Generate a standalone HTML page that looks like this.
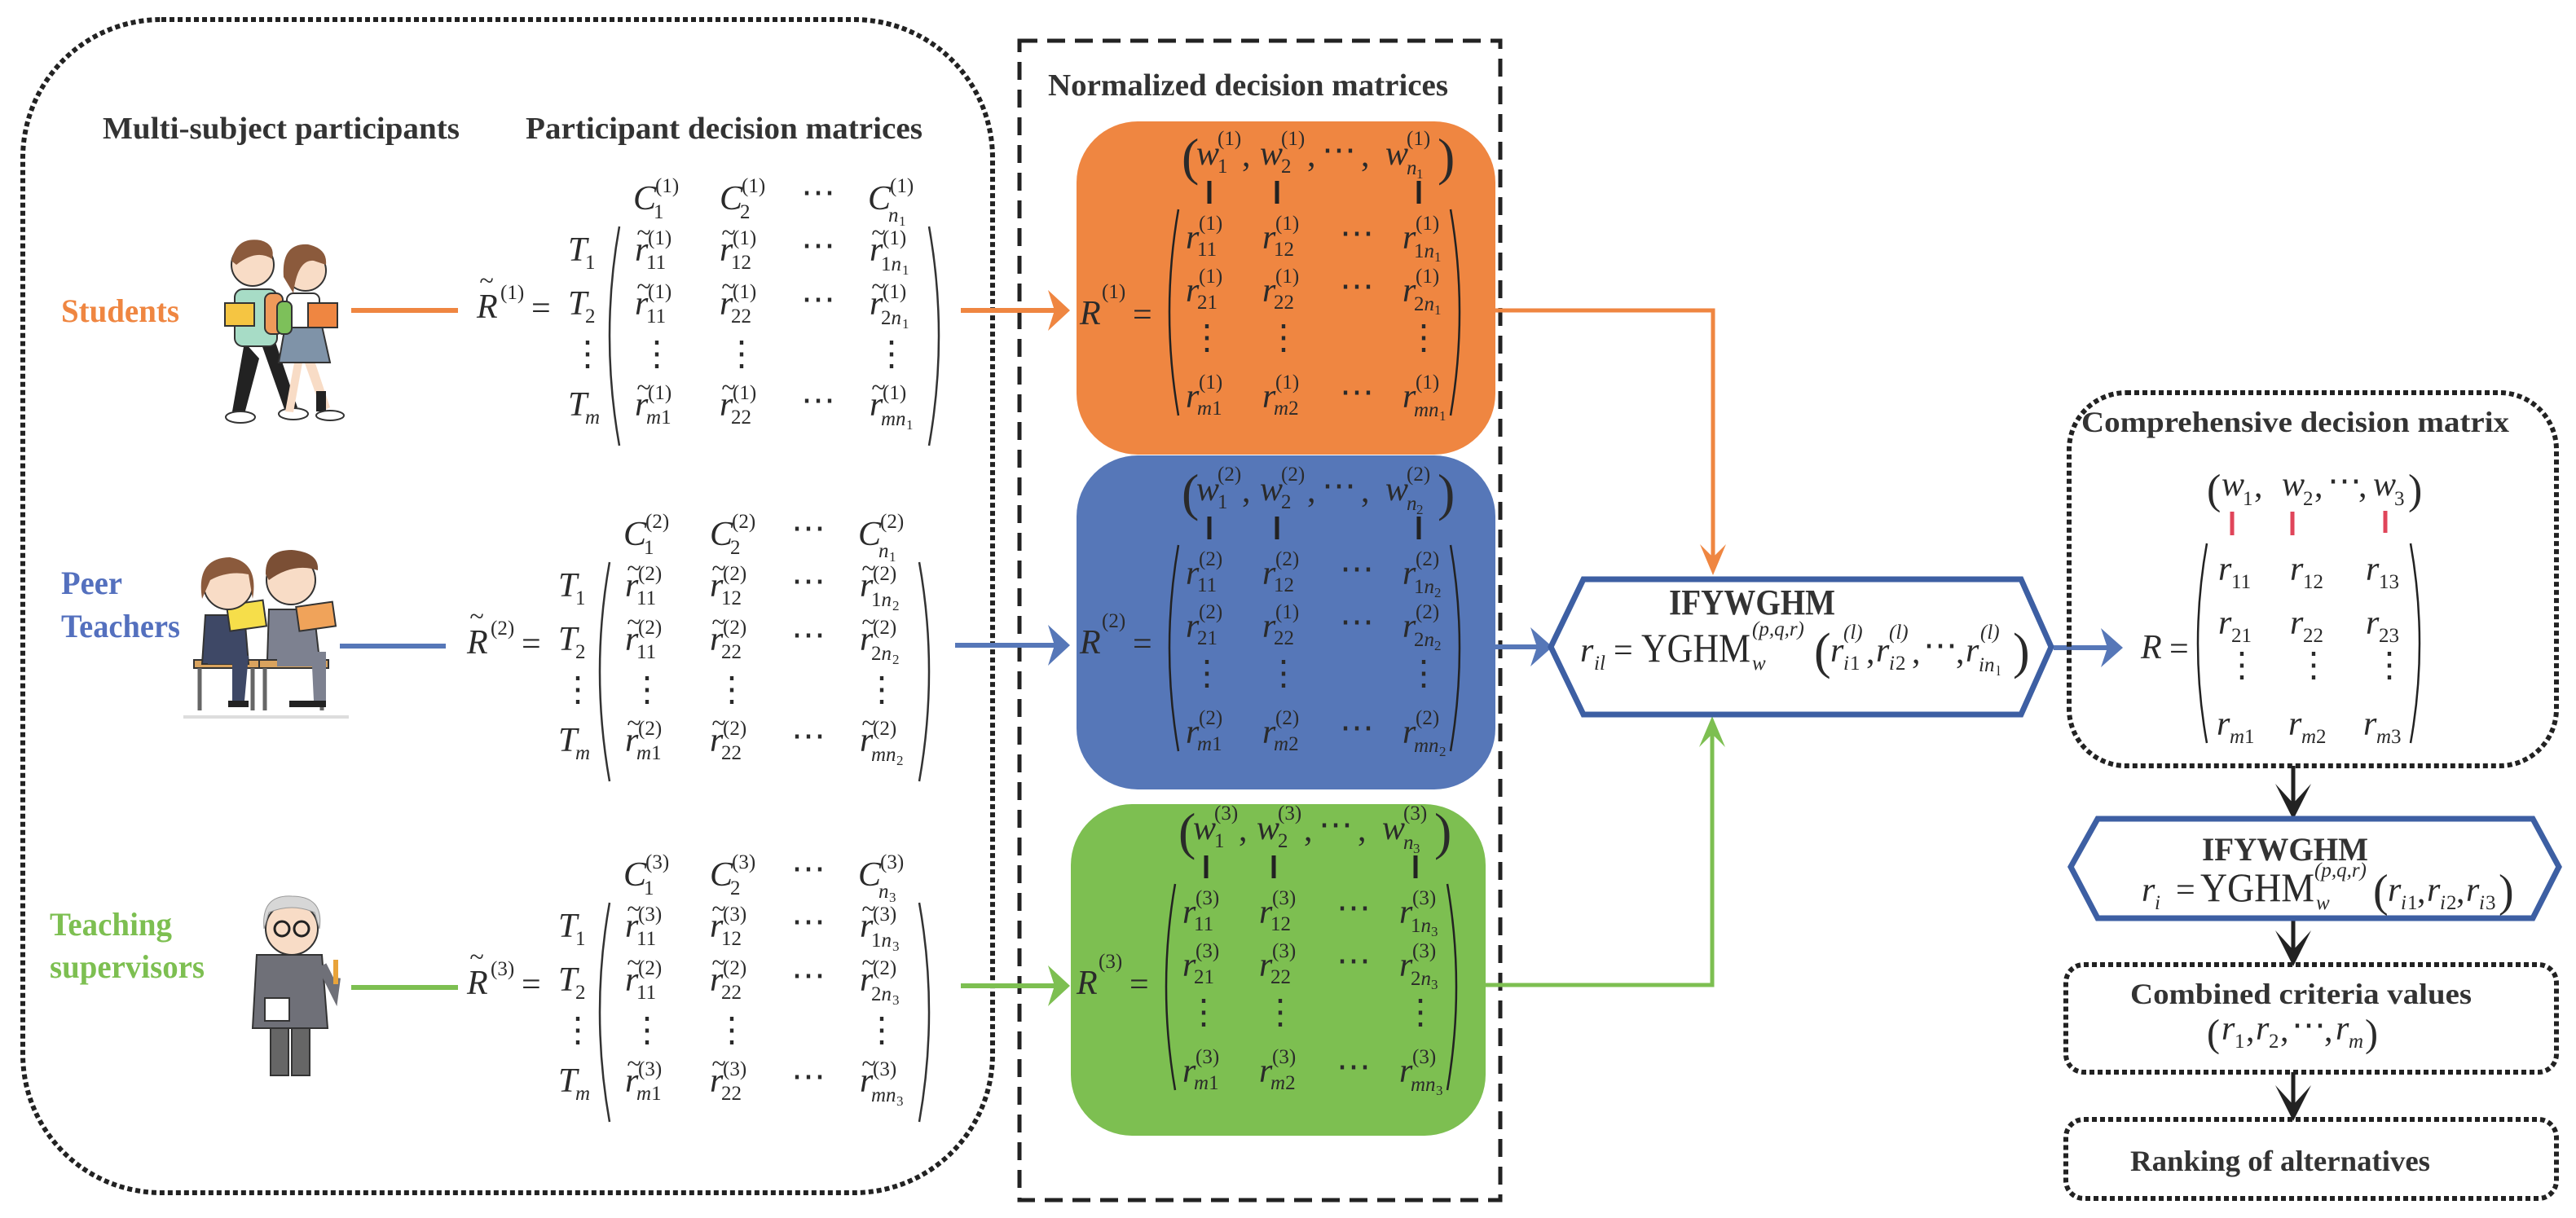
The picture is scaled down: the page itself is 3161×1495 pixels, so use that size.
<!DOCTYPE html>
<html><head><meta charset="utf-8"><style>
html,body{margin:0;padding:0;background:#fff;}
svg{display:block;}
text{font-family:"Liberation Serif",serif;fill:#2a2a2a;}
.m{font-style:italic;font-size:42px;}
.u{font-size:42px;}
.s{font-size:25px;}
.si{font-size:25px;font-style:italic;}
.ss{font-size:17px;}
.h{font-weight:bold;font-size:38px;fill:#333;}
.tl{font-size:34px;}
</style></head><body>
<svg width="3161" height="1495" viewBox="0 0 3161 1495" xmlns="http://www.w3.org/2000/svg">
<defs>
<g id="lp"><path d="M760 278 Q736 412 760 547" fill="none" stroke="#333" stroke-width="2.5"/><path d="M1140 278 Q1164 412 1140 547" fill="none" stroke="#333" stroke-width="2.5"/></g>
<g id="np"><path d="M1446 257 Q1424 383 1446 510" fill="none" stroke="#222" stroke-width="2.5"/><path d="M1780 257 Q1802 383 1780 510" fill="none" stroke="#222" stroke-width="2.5"/>
<line x1="1484" y1="222" x2="1484" y2="250" stroke="#222" stroke-width="5"/><line x1="1567" y1="222" x2="1567" y2="250" stroke="#222" stroke-width="5"/><line x1="1741" y1="222" x2="1741" y2="250" stroke="#222" stroke-width="5"/></g>
</defs>

<!-- big left dotted box -->
<rect x="28" y="24" width="1190" height="1440" rx="170" fill="none" stroke="#222" stroke-width="6" stroke-dasharray="6 4"/>
<!-- dashed normalized box -->
<rect x="1251" y="50" width="590" height="1423" fill="none" stroke="#222" stroke-width="5" stroke-dasharray="22 12"/>

<text class="h" x="126" y="170" textLength="438" lengthAdjust="spacingAndGlyphs">Multi-subject participants</text>
<text class="h" x="645" y="170" textLength="487" lengthAdjust="spacingAndGlyphs">Participant decision matrices</text>
<text class="h" x="1286" y="117" textLength="491" lengthAdjust="spacingAndGlyphs">Normalized decision matrices</text>

<text class="h" x="75" y="395" style="fill:#EF8641;font-size:40px" textLength="145" lengthAdjust="spacingAndGlyphs">Students</text>
<text class="h" x="75" y="729" style="fill:#5470BE;font-size:40px" textLength="75" lengthAdjust="spacingAndGlyphs">Peer</text>
<text class="h" x="75" y="782" style="fill:#5470BE;font-size:40px" textLength="146" lengthAdjust="spacingAndGlyphs">Teachers</text>
<text class="h" x="61" y="1148" style="fill:#7DBF51;font-size:40px" textLength="150" lengthAdjust="spacingAndGlyphs">Teaching</text>
<text class="h" x="61" y="1200" style="fill:#7DBF51;font-size:40px" textLength="190" lengthAdjust="spacingAndGlyphs">supervisors</text>

<!-- Students illustration -->
<g>
<path d="M300 420 L285 505 L300 508 L318 440 Z" fill="#222"/><path d="M320 420 L350 505 L365 500 L338 420 Z" fill="#222"/>
<ellipse cx="295" cy="512" rx="18" ry="7" fill="#fff" stroke="#333" stroke-width="2"/><ellipse cx="360" cy="508" rx="18" ry="7" fill="#fff" stroke="#333" stroke-width="2"/>
<rect x="288" y="355" width="52" height="70" rx="10" fill="#A7DCC6" stroke="#333" stroke-width="2"/>
<rect x="325" y="360" width="22" height="50" rx="8" fill="#EF9A5A" stroke="#333" stroke-width="2"/>
<rect x="276" y="372" width="36" height="28" fill="#F5C542" stroke="#333" stroke-width="2"/>
<circle cx="310" cy="325" r="26" fill="#F8DCC6" stroke="#333" stroke-width="2"/><path d="M284 320 Q290 290 320 295 Q338 300 334 318 Q315 305 290 325 Z" fill="#8B5A3C"/>
<path d="M372 440 L395 505 L405 500 L385 440 Z" fill="#F8DCC6"/><path d="M362 440 L350 505 L360 506 L372 440 Z" fill="#F8DCC6"/>
<rect x="388" y="480" width="12" height="25" fill="#222"/>
<ellipse cx="405" cy="510" rx="17" ry="6" fill="#fff" stroke="#333" stroke-width="2"/>
<path d="M350 400 L395 400 L405 445 L342 445 Z" fill="#7F93A8" stroke="#333" stroke-width="2"/>
<rect x="352" y="360" width="40" height="42" rx="8" fill="#fff" stroke="#333" stroke-width="2"/>
<rect x="340" y="370" width="18" height="40" rx="7" fill="#7DC05A" stroke="#333" stroke-width="2"/>
<rect x="378" y="372" width="36" height="30" fill="#EF8641" stroke="#333" stroke-width="2"/>
<circle cx="375" cy="332" r="25" fill="#F8DCC6" stroke="#333" stroke-width="2"/><path d="M348 340 Q345 298 378 300 Q402 305 400 325 L385 320 Q365 318 360 360 Z" fill="#8B5A3C"/>
</g>
<!-- Peer teachers -->
<g>
<rect x="238" y="810" width="80" height="10" fill="#D9A35E" stroke="#333" stroke-width="2"/><rect x="318" y="810" width="85" height="10" fill="#D9A35E" stroke="#333" stroke-width="2"/>
<line x1="245" y1="820" x2="245" y2="872" stroke="#666" stroke-width="5"/><line x1="310" y1="820" x2="310" y2="872" stroke="#666" stroke-width="5"/><line x1="325" y1="820" x2="325" y2="872" stroke="#666" stroke-width="5"/><line x1="395" y1="820" x2="395" y2="872" stroke="#666" stroke-width="5"/>
<line x1="225" y1="880" x2="428" y2="880" stroke="#ddd" stroke-width="4"/>
<path d="M252 755 L300 755 L305 815 L248 815 Z" fill="#3E4866" stroke="#333" stroke-width="2"/>
<path d="M255 800 L305 805 L300 860 L285 860 L285 815 L255 815 Z" fill="#3E4866"/>
<rect x="280" y="740" width="45" height="32" fill="#F6DE4A" stroke="#333" stroke-width="2" transform="rotate(-8 300 756)"/>
<circle cx="280" cy="718" r="30" fill="#F8DCC6" stroke="#333" stroke-width="2"/><path d="M248 735 Q240 685 282 684 Q318 690 310 735 L305 705 Q280 700 258 712 Z" fill="#8B5A3C"/>
<path d="M330 748 L385 748 L392 810 L328 810 Z" fill="#7D8190" stroke="#333" stroke-width="2"/>
<path d="M340 800 L400 800 L400 860 L385 860 L383 818 L340 818 Z" fill="#7D8190"/>
<rect x="365" y="742" width="45" height="30" fill="#F0A35A" stroke="#333" stroke-width="2" transform="rotate(-8 385 756)"/>
<circle cx="357" cy="712" r="30" fill="#F8DCC6" stroke="#333" stroke-width="2"/><path d="M326 705 Q325 675 358 675 Q392 678 390 700 Q360 690 330 712 Z" fill="#7B4F35"/>
<rect x="355" y="860" width="45" height="8" fill="#222"/><rect x="280" y="860" width="25" height="8" fill="#222"/>
</g>
<!-- Supervisor -->
<g>
<rect x="332" y="1255" width="22" height="65" fill="#666" stroke="#333" stroke-width="2"/><rect x="358" y="1255" width="22" height="65" fill="#666" stroke="#333" stroke-width="2"/>
<path d="M315 1172 L395 1172 L402 1262 L310 1262 Z" fill="#6F7078" stroke="#333" stroke-width="2"/>
<path d="M395 1185 L410 1215 L412 1200" fill="none" stroke="#6F7078" stroke-width="12"/>
<rect x="409" y="1178" width="6" height="30" fill="#E8A33A"/>
<rect x="325" y="1225" width="30" height="28" fill="#fff" stroke="#333" stroke-width="2"/>
<circle cx="358" cy="1140" r="32" fill="#F8DCC6" stroke="#333" stroke-width="2"/><path d="M324 1140 Q320 1098 358 1100 Q398 1100 392 1140 L386 1120 Q358 1108 330 1120 Z" fill="#D7D7D7" stroke="#999"/>
<circle cx="346" cy="1140" r="9" fill="none" stroke="#222" stroke-width="3"/><circle cx="370" cy="1140" r="9" fill="none" stroke="#222" stroke-width="3"/>
</g>

<!-- left lines -->
<line x1="431" y1="381" x2="562" y2="381" stroke="#EF8641" stroke-width="6"/>
<line x1="417" y1="793" x2="547" y2="793" stroke="#5677B8" stroke-width="6"/>
<line x1="431" y1="1212" x2="562" y2="1212" stroke="#7DBF51" stroke-width="6"/>

<!-- LEFT MATRIX 1 -->
<g id="lm1">
<use href="#lp"/>
<text class="m" x="588" y="355" style="font-size:32px">~</text><text class="m" x="585" y="390">R</text><text class="s" x="614" y="367">(1)</text><text class="u" x="652" y="392">=</text>
<text class="m" x="697" y="320">T</text><text class="s" x="718" y="330">1</text>
<text class="m" x="697" y="386">T</text><text class="s" x="718" y="396">2</text>
<text class="u" x="700" y="448">⋮</text>
<text class="m" x="697" y="510">T</text><text class="si" x="718" y="520">m</text>
<text class="m" x="777" y="257">C</text><text class="s" x="804" y="236">(1)</text><text class="s" x="802" y="268">1</text>
<text class="m" x="883" y="257">C</text><text class="s" x="910" y="236">(1)</text><text class="s" x="908" y="268">2</text>
<text class="u" x="983" y="250">⋯</text>
<text class="m" x="1065" y="257">C</text><text class="s" x="1092" y="236">(1)</text><text class="si" x="1090" y="272">n</text><text class="ss" x="1103" y="277">1</text>
<text class="m" x="781" y="296" style="font-size:32px">~</text><text class="m" x="779" y="320">r</text><text class="s" x="795" y="300">(1)</text><text class="s" x="793" y="330">11</text>
<text class="m" x="885" y="296" style="font-size:32px">~</text><text class="m" x="883" y="320">r</text><text class="s" x="899" y="300">(1)</text><text class="s" x="897" y="330">12</text>
<text class="u" x="983" y="315">⋯</text>
<text class="m" x="1069" y="296" style="font-size:32px">~</text><text class="m" x="1067" y="320">r</text><text class="s" x="1083" y="300">(1)</text><text class="s" x="1081" y="332">1<tspan class="si">n</tspan></text><text class="ss" x="1107" y="337">1</text>
<text class="m" x="781" y="362" style="font-size:32px">~</text><text class="m" x="779" y="386">r</text><text class="s" x="795" y="366">(1)</text><text class="s" x="793" y="396">11</text>
<text class="m" x="885" y="362" style="font-size:32px">~</text><text class="m" x="883" y="386">r</text><text class="s" x="899" y="366">(1)</text><text class="s" x="897" y="396">22</text>
<text class="u" x="983" y="381">⋯</text>
<text class="m" x="1069" y="362" style="font-size:32px">~</text><text class="m" x="1067" y="386">r</text><text class="s" x="1083" y="366">(1)</text><text class="s" x="1081" y="398">2<tspan class="si">n</tspan></text><text class="ss" x="1107" y="403">1</text>
<text class="u" x="785" y="448">⋮</text><text class="u" x="889" y="448">⋮</text><text class="u" x="1073" y="448">⋮</text>
<text class="m" x="781" y="486" style="font-size:32px">~</text><text class="m" x="779" y="510">r</text><text class="s" x="795" y="490">(1)</text><text class="s" x="793" y="520"><tspan class="si">m</tspan>1</text>
<text class="m" x="885" y="486" style="font-size:32px">~</text><text class="m" x="883" y="510">r</text><text class="s" x="899" y="490">(1)</text><text class="s" x="897" y="520">22</text>
<text class="u" x="983" y="505">⋯</text>
<text class="m" x="1069" y="486" style="font-size:32px">~</text><text class="m" x="1067" y="510">r</text><text class="s" x="1083" y="490">(1)</text><text class="s" x="1081" y="522"><tspan class="si">mn</tspan></text><text class="ss" x="1112" y="527">1</text>
</g>

<!-- LEFT MATRIX 2 -->
<g transform="translate(-12,412)">
<use href="#lp"/>
<text class="m" x="588" y="355" style="font-size:32px">~</text><text class="m" x="585" y="390">R</text><text class="s" x="614" y="367">(2)</text><text class="u" x="652" y="392">=</text>
<text class="m" x="697" y="320">T</text><text class="s" x="718" y="330">1</text>
<text class="m" x="697" y="386">T</text><text class="s" x="718" y="396">2</text>
<text class="u" x="700" y="448">⋮</text>
<text class="m" x="697" y="510">T</text><text class="si" x="718" y="520">m</text>
<text class="m" x="777" y="257">C</text><text class="s" x="804" y="236">(2)</text><text class="s" x="802" y="268">1</text>
<text class="m" x="883" y="257">C</text><text class="s" x="910" y="236">(2)</text><text class="s" x="908" y="268">2</text>
<text class="u" x="983" y="250">⋯</text>
<text class="m" x="1065" y="257">C</text><text class="s" x="1092" y="236">(2)</text><text class="si" x="1090" y="272">n</text><text class="ss" x="1103" y="277">1</text>
<text class="m" x="781" y="296" style="font-size:32px">~</text><text class="m" x="779" y="320">r</text><text class="s" x="795" y="300">(2)</text><text class="s" x="793" y="330">11</text>
<text class="m" x="885" y="296" style="font-size:32px">~</text><text class="m" x="883" y="320">r</text><text class="s" x="899" y="300">(2)</text><text class="s" x="897" y="330">12</text>
<text class="u" x="983" y="315">⋯</text>
<text class="m" x="1069" y="296" style="font-size:32px">~</text><text class="m" x="1067" y="320">r</text><text class="s" x="1083" y="300">(2)</text><text class="s" x="1081" y="332">1<tspan class="si">n</tspan></text><text class="ss" x="1107" y="337">2</text>
<text class="m" x="781" y="362" style="font-size:32px">~</text><text class="m" x="779" y="386">r</text><text class="s" x="795" y="366">(2)</text><text class="s" x="793" y="396">11</text>
<text class="m" x="885" y="362" style="font-size:32px">~</text><text class="m" x="883" y="386">r</text><text class="s" x="899" y="366">(2)</text><text class="s" x="897" y="396">22</text>
<text class="u" x="983" y="381">⋯</text>
<text class="m" x="1069" y="362" style="font-size:32px">~</text><text class="m" x="1067" y="386">r</text><text class="s" x="1083" y="366">(2)</text><text class="s" x="1081" y="398">2<tspan class="si">n</tspan></text><text class="ss" x="1107" y="403">2</text>
<text class="u" x="785" y="448">⋮</text><text class="u" x="889" y="448">⋮</text><text class="u" x="1073" y="448">⋮</text>
<text class="m" x="781" y="486" style="font-size:32px">~</text><text class="m" x="779" y="510">r</text><text class="s" x="795" y="490">(2)</text><text class="s" x="793" y="520"><tspan class="si">m</tspan>1</text>
<text class="m" x="885" y="486" style="font-size:32px">~</text><text class="m" x="883" y="510">r</text><text class="s" x="899" y="490">(2)</text><text class="s" x="897" y="520">22</text>
<text class="u" x="983" y="505">⋯</text>
<text class="m" x="1069" y="486" style="font-size:32px">~</text><text class="m" x="1067" y="510">r</text><text class="s" x="1083" y="490">(2)</text><text class="s" x="1081" y="522"><tspan class="si">mn</tspan></text><text class="ss" x="1112" y="527">2</text>
</g>

<!-- LEFT MATRIX 3 -->
<g transform="translate(-12,830)">
<use href="#lp"/>
<text class="m" x="588" y="355" style="font-size:32px">~</text><text class="m" x="585" y="390">R</text><text class="s" x="614" y="367">(3)</text><text class="u" x="652" y="392">=</text>
<text class="m" x="697" y="320">T</text><text class="s" x="718" y="330">1</text>
<text class="m" x="697" y="386">T</text><text class="s" x="718" y="396">2</text>
<text class="u" x="700" y="448">⋮</text>
<text class="m" x="697" y="510">T</text><text class="si" x="718" y="520">m</text>
<text class="m" x="777" y="257">C</text><text class="s" x="804" y="236">(3)</text><text class="s" x="802" y="268">1</text>
<text class="m" x="883" y="257">C</text><text class="s" x="910" y="236">(3)</text><text class="s" x="908" y="268">2</text>
<text class="u" x="983" y="250">⋯</text>
<text class="m" x="1065" y="257">C</text><text class="s" x="1092" y="236">(3)</text><text class="si" x="1090" y="272">n</text><text class="ss" x="1103" y="277">3</text>
<text class="m" x="781" y="296" style="font-size:32px">~</text><text class="m" x="779" y="320">r</text><text class="s" x="795" y="300">(3)</text><text class="s" x="793" y="330">11</text>
<text class="m" x="885" y="296" style="font-size:32px">~</text><text class="m" x="883" y="320">r</text><text class="s" x="899" y="300">(3)</text><text class="s" x="897" y="330">12</text>
<text class="u" x="983" y="315">⋯</text>
<text class="m" x="1069" y="296" style="font-size:32px">~</text><text class="m" x="1067" y="320">r</text><text class="s" x="1083" y="300">(3)</text><text class="s" x="1081" y="332">1<tspan class="si">n</tspan></text><text class="ss" x="1107" y="337">3</text>
<text class="m" x="781" y="362" style="font-size:32px">~</text><text class="m" x="779" y="386">r</text><text class="s" x="795" y="366">(2)</text><text class="s" x="793" y="396">11</text>
<text class="m" x="885" y="362" style="font-size:32px">~</text><text class="m" x="883" y="386">r</text><text class="s" x="899" y="366">(2)</text><text class="s" x="897" y="396">22</text>
<text class="u" x="983" y="381">⋯</text>
<text class="m" x="1069" y="362" style="font-size:32px">~</text><text class="m" x="1067" y="386">r</text><text class="s" x="1083" y="366">(2)</text><text class="s" x="1081" y="398">2<tspan class="si">n</tspan></text><text class="ss" x="1107" y="403">3</text>
<text class="u" x="785" y="448">⋮</text><text class="u" x="889" y="448">⋮</text><text class="u" x="1073" y="448">⋮</text>
<text class="m" x="781" y="486" style="font-size:32px">~</text><text class="m" x="779" y="510">r</text><text class="s" x="795" y="490">(3)</text><text class="s" x="793" y="520"><tspan class="si">m</tspan>1</text>
<text class="m" x="885" y="486" style="font-size:32px">~</text><text class="m" x="883" y="510">r</text><text class="s" x="899" y="490">(3)</text><text class="s" x="897" y="520">22</text>
<text class="u" x="983" y="505">⋯</text>
<text class="m" x="1069" y="486" style="font-size:32px">~</text><text class="m" x="1067" y="510">r</text><text class="s" x="1083" y="490">(3)</text><text class="s" x="1081" y="522"><tspan class="si">mn</tspan></text><text class="ss" x="1112" y="527">3</text>
</g>

<!-- arrows into normalized boxes -->
<line x1="1179" y1="381" x2="1300" y2="381" stroke="#EF8641" stroke-width="6"/><polygon points="1313,381 1286,356 1294,381 1286,406" fill="#EF8641"/>
<line x1="1172" y1="792" x2="1300" y2="792" stroke="#5677B8" stroke-width="6"/><polygon points="1313,792 1286,767 1294,792 1286,817" fill="#5677B8"/>
<line x1="1179" y1="1210" x2="1300" y2="1210" stroke="#7DBF51" stroke-width="6"/><polygon points="1313,1210 1286,1185 1294,1210 1286,1235" fill="#7DBF51"/>

<!-- colored boxes -->
<rect x="1321" y="149" width="514" height="409" rx="75" fill="#EF8641"/>
<rect x="1321" y="559" width="514" height="410" rx="75" fill="#5677B8"/>
<rect x="1314" y="987" width="509" height="407" rx="75" fill="#7DBF51"/>

<!-- NORMALIZED 1 -->
<g>
<use href="#np"/>
<text class="m" x="1325" y="398">R</text><text class="s" x="1352" y="366">(1)</text><text class="u" x="1390" y="400">=</text>
<text class="u" x="1450" y="214" style="font-size:64px">(</text><text class="u" x="1764" y="214" style="font-size:64px">)</text>
<text class="m" x="1468" y="202">w</text><text class="s" x="1494" y="178">(1)</text><text class="s" x="1494" y="212">1</text><text class="u" x="1524" y="204">,</text>
<text class="m" x="1546" y="202">w</text><text class="s" x="1572" y="178">(1)</text><text class="s" x="1572" y="212">2</text><text class="u" x="1604" y="204">,</text>
<text class="u" x="1622" y="198">⋯</text><text class="u" x="1670" y="204">,</text>
<text class="m" x="1700" y="202">w</text><text class="s" x="1726" y="178">(1)</text><text class="si" x="1726" y="214">n</text><text class="ss" x="1738" y="219">1</text>
<text class="m" x="1455" y="305">r</text><text class="s" x="1471" y="282">(1)</text><text class="s" x="1469" y="314">11</text>
<text class="m" x="1549" y="305">r</text><text class="s" x="1565" y="282">(1)</text><text class="s" x="1563" y="314">12</text>
<text class="u" x="1644" y="300">⋯</text>
<text class="m" x="1721" y="305">r</text><text class="s" x="1737" y="282">(1)</text><text class="s" x="1735" y="316">1<tspan class="si">n</tspan></text><text class="ss" x="1760" y="321">1</text>
<text class="m" x="1455" y="370">r</text><text class="s" x="1471" y="347">(1)</text><text class="s" x="1469" y="379">21</text>
<text class="m" x="1549" y="370">r</text><text class="s" x="1565" y="347">(1)</text><text class="s" x="1563" y="379">22</text>
<text class="u" x="1644" y="365">⋯</text>
<text class="m" x="1721" y="370">r</text><text class="s" x="1737" y="347">(1)</text><text class="s" x="1735" y="381">2<tspan class="si">n</tspan></text><text class="ss" x="1760" y="386">1</text>
<text class="u" x="1460" y="428">⋮</text><text class="u" x="1554" y="428">⋮</text><text class="u" x="1726" y="428">⋮</text>
<text class="m" x="1455" y="500">r</text><text class="s" x="1471" y="477">(1)</text><text class="s" x="1469" y="509"><tspan class="si">m</tspan>1</text>
<text class="m" x="1549" y="500">r</text><text class="s" x="1565" y="477">(1)</text><text class="s" x="1563" y="509"><tspan class="si">m</tspan>2</text>
<text class="u" x="1644" y="495">⋯</text>
<text class="m" x="1721" y="500">r</text><text class="s" x="1737" y="477">(1)</text><text class="si" x="1735" y="511">mn</text><text class="ss" x="1766" y="516">1</text>
</g>
<!-- NORMALIZED 2 -->
<g transform="translate(0,412)">
<use href="#np"/>
<text class="m" x="1325" y="390">R</text><text class="s" x="1352" y="358">(2)</text><text class="u" x="1390" y="392">=</text>
<text class="u" x="1450" y="214" style="font-size:64px">(</text><text class="u" x="1764" y="214" style="font-size:64px">)</text>
<text class="m" x="1468" y="202">w</text><text class="s" x="1494" y="178">(2)</text><text class="s" x="1494" y="212">1</text><text class="u" x="1524" y="204">,</text>
<text class="m" x="1546" y="202">w</text><text class="s" x="1572" y="178">(2)</text><text class="s" x="1572" y="212">2</text><text class="u" x="1604" y="204">,</text>
<text class="u" x="1622" y="198">⋯</text><text class="u" x="1670" y="204">,</text>
<text class="m" x="1700" y="202">w</text><text class="s" x="1726" y="178">(2)</text><text class="si" x="1726" y="214">n</text><text class="ss" x="1738" y="219">2</text>
<text class="m" x="1455" y="305">r</text><text class="s" x="1471" y="282">(2)</text><text class="s" x="1469" y="314">11</text>
<text class="m" x="1549" y="305">r</text><text class="s" x="1565" y="282">(2)</text><text class="s" x="1563" y="314">12</text>
<text class="u" x="1644" y="300">⋯</text>
<text class="m" x="1721" y="305">r</text><text class="s" x="1737" y="282">(2)</text><text class="s" x="1735" y="316">1<tspan class="si">n</tspan></text><text class="ss" x="1760" y="321">2</text>
<text class="m" x="1455" y="370">r</text><text class="s" x="1471" y="347">(2)</text><text class="s" x="1469" y="379">21</text>
<text class="m" x="1549" y="370">r</text><text class="s" x="1565" y="347">(1)</text><text class="s" x="1563" y="379">22</text>
<text class="u" x="1644" y="365">⋯</text>
<text class="m" x="1721" y="370">r</text><text class="s" x="1737" y="347">(2)</text><text class="s" x="1735" y="381">2<tspan class="si">n</tspan></text><text class="ss" x="1760" y="386">2</text>
<text class="u" x="1460" y="428">⋮</text><text class="u" x="1554" y="428">⋮</text><text class="u" x="1726" y="428">⋮</text>
<text class="m" x="1455" y="500">r</text><text class="s" x="1471" y="477">(2)</text><text class="s" x="1469" y="509"><tspan class="si">m</tspan>1</text>
<text class="m" x="1549" y="500">r</text><text class="s" x="1565" y="477">(2)</text><text class="s" x="1563" y="509"><tspan class="si">m</tspan>2</text>
<text class="u" x="1644" y="495">⋯</text>
<text class="m" x="1721" y="500">r</text><text class="s" x="1737" y="477">(2)</text><text class="si" x="1735" y="511">mn</text><text class="ss" x="1766" y="516">2</text>
</g>
<!-- NORMALIZED 3 -->
<g transform="translate(-4,828)">
<use href="#np"/>
<text class="m" x="1325" y="392">R</text><text class="s" x="1352" y="360">(3)</text><text class="u" x="1390" y="394">=</text>
<text class="u" x="1450" y="214" style="font-size:64px">(</text><text class="u" x="1764" y="214" style="font-size:64px">)</text>
<text class="m" x="1468" y="202">w</text><text class="s" x="1494" y="178">(3)</text><text class="s" x="1494" y="212">1</text><text class="u" x="1524" y="204">,</text>
<text class="m" x="1546" y="202">w</text><text class="s" x="1572" y="178">(3)</text><text class="s" x="1572" y="212">2</text><text class="u" x="1604" y="204">,</text>
<text class="u" x="1622" y="198">⋯</text><text class="u" x="1670" y="204">,</text>
<text class="m" x="1700" y="202">w</text><text class="s" x="1726" y="178">(3)</text><text class="si" x="1726" y="214">n</text><text class="ss" x="1738" y="219">3</text>
<text class="m" x="1455" y="305">r</text><text class="s" x="1471" y="282">(3)</text><text class="s" x="1469" y="314">11</text>
<text class="m" x="1549" y="305">r</text><text class="s" x="1565" y="282">(3)</text><text class="s" x="1563" y="314">12</text>
<text class="u" x="1644" y="300">⋯</text>
<text class="m" x="1721" y="305">r</text><text class="s" x="1737" y="282">(3)</text><text class="s" x="1735" y="316">1<tspan class="si">n</tspan></text><text class="ss" x="1760" y="321">3</text>
<text class="m" x="1455" y="370">r</text><text class="s" x="1471" y="347">(3)</text><text class="s" x="1469" y="379">21</text>
<text class="m" x="1549" y="370">r</text><text class="s" x="1565" y="347">(3)</text><text class="s" x="1563" y="379">22</text>
<text class="u" x="1644" y="365">⋯</text>
<text class="m" x="1721" y="370">r</text><text class="s" x="1737" y="347">(3)</text><text class="s" x="1735" y="381">2<tspan class="si">n</tspan></text><text class="ss" x="1760" y="386">3</text>
<text class="u" x="1460" y="428">⋮</text><text class="u" x="1554" y="428">⋮</text><text class="u" x="1726" y="428">⋮</text>
<text class="m" x="1455" y="500">r</text><text class="s" x="1471" y="477">(3)</text><text class="s" x="1469" y="509"><tspan class="si">m</tspan>1</text>
<text class="m" x="1549" y="500">r</text><text class="s" x="1565" y="477">(3)</text><text class="s" x="1563" y="509"><tspan class="si">m</tspan>2</text>
<text class="u" x="1644" y="495">⋯</text>
<text class="m" x="1721" y="500">r</text><text class="s" x="1737" y="477">(3)</text><text class="si" x="1735" y="511">mn</text><text class="ss" x="1766" y="516">3</text>
</g>

<!-- connectors to hexagon -->
<polyline points="1835,381 2102,381 2102,700" fill="none" stroke="#EF8641" stroke-width="5"/>
<polygon points="2102,706 2086,668 2102,684 2118,668" fill="#EF8641"/>
<polyline points="1823,1209 2101,1209 2101,885" fill="none" stroke="#7DBF51" stroke-width="5"/>
<polygon points="2101,879 2085,917 2101,901 2117,917" fill="#7DBF51"/>
<line x1="1835" y1="794" x2="1895" y2="794" stroke="#5677B8" stroke-width="6"/><polygon points="1905,794 1878,770 1886,794 1878,818" fill="#5677B8"/>

<!-- hexagon 1 -->
<polygon points="1903,794 1943,711 2480,711 2517,794 2480,877 1943,877" fill="#fff" stroke="#3D5FA3" stroke-width="7"/>
<text class="h" x="2048" y="754" style="font-size:44px" textLength="204" lengthAdjust="spacingAndGlyphs">IFYWGHM</text>
<text class="m" x="1939" y="812">r</text><text class="si" x="1956" y="822">il</text>
<text class="u" x="1980" y="812">=</text>
<text class="u" x="2014" y="812" style="font-size:50px" textLength="134" lengthAdjust="spacingAndGlyphs">YGHM</text>
<text class="si" x="2150" y="780">(p,q,r)</text><text class="si" x="2150" y="822">w</text>
<text class="u" x="2226" y="820" style="font-size:62px">(</text>
<text class="m" x="2246" y="812">r</text><text class="si" x="2262" y="784">(l)</text><text class="si" x="2262" y="822">i</text><text class="s" x="2270" y="822">1</text>
<text class="u" x="2290" y="814">,</text>
<text class="m" x="2302" y="812">r</text><text class="si" x="2318" y="784">(l)</text><text class="si" x="2318" y="822">i</text><text class="s" x="2326" y="822">2</text>
<text class="u" x="2346" y="814">,</text><text class="u" x="2360" y="806">⋯</text><text class="u" x="2400" y="814">,</text>
<text class="m" x="2412" y="812">r</text><text class="si" x="2430" y="784">(l)</text><text class="si" x="2428" y="824">in</text><text class="ss" x="2450" y="829">l</text>
<text class="u" x="2470" y="820" style="font-size:62px">)</text>

<line x1="2520" y1="795" x2="2595" y2="795" stroke="#5677B8" stroke-width="6"/><polygon points="2605,795 2578,771 2586,795 2578,819" fill="#5677B8"/>

<!-- comprehensive box -->
<rect x="2539" y="482" width="598" height="458" rx="70" fill="none" stroke="#222" stroke-width="6" stroke-dasharray="6 4"/>
<text class="h" x="2554" y="530" style="font-size:36px" textLength="525" lengthAdjust="spacingAndGlyphs">Comprehensive decision matrix</text>
<text class="u" x="2708" y="618" style="font-size:52px">(</text><text class="u" x="2955" y="618" style="font-size:52px">)</text>
<text class="m" x="2726" y="608">w</text><text class="s" x="2752" y="620">1</text><text class="u" x="2766" y="610">,</text>
<text class="m" x="2800" y="608">w</text><text class="s" x="2826" y="620">2</text><text class="u" x="2840" y="610">,</text>
<text class="u" x="2856" y="604">⋯</text><text class="u" x="2894" y="610">,</text>
<text class="m" x="2912" y="608">w</text><text class="s" x="2938" y="620">3</text>
<line x1="2739" y1="628" x2="2739" y2="657" stroke="#E0455A" stroke-width="5"/>
<line x1="2813" y1="628" x2="2813" y2="657" stroke="#E0455A" stroke-width="5"/>
<line x1="2927" y1="627" x2="2927" y2="654" stroke="#E0455A" stroke-width="5"/>
<text class="m" x="2627" y="808">R</text><text class="u" x="2662" y="810">=</text>
<path d="M2708 667 Q2686 790 2708 912" fill="none" stroke="#222" stroke-width="2.5"/><path d="M2958 667 Q2980 790 2958 912" fill="none" stroke="#222" stroke-width="2.5"/>
<text class="m" x="2722" y="712">r</text><text class="s" x="2738" y="722">11</text>
<text class="m" x="2810" y="712">r</text><text class="s" x="2826" y="722">12</text>
<text class="m" x="2903" y="712">r</text><text class="s" x="2919" y="722">13</text>
<text class="m" x="2722" y="778">r</text><text class="s" x="2738" y="788">21</text>
<text class="m" x="2810" y="778">r</text><text class="s" x="2826" y="788">22</text>
<text class="m" x="2903" y="778">r</text><text class="s" x="2919" y="788">23</text>
<text class="u" x="2730" y="830">⋮</text><text class="u" x="2818" y="830">⋮</text><text class="u" x="2911" y="830">⋮</text>
<text class="m" x="2720" y="902">r</text><text class="si" x="2736" y="912">m</text><text class="s" x="2754" y="912">1</text>
<text class="m" x="2808" y="902">r</text><text class="si" x="2824" y="912">m</text><text class="s" x="2842" y="912">2</text>
<text class="m" x="2900" y="902">r</text><text class="si" x="2916" y="912">m</text><text class="s" x="2934" y="912">3</text>

<!-- down arrows -->
<line x1="2814" y1="940" x2="2814" y2="1000" stroke="#222" stroke-width="5"/><polygon points="2814,1006 2792,962 2814,986 2836,962" fill="#222"/>
<line x1="2814" y1="1127" x2="2814" y2="1180" stroke="#222" stroke-width="5"/><polygon points="2814,1186 2792,1142 2814,1166 2836,1142" fill="#222"/>
<line x1="2814" y1="1316" x2="2814" y2="1370" stroke="#222" stroke-width="5"/><polygon points="2814,1376 2792,1332 2814,1356 2836,1332" fill="#222"/>

<!-- hexagon 2 -->
<polygon points="2541,1064 2574,1005 3108,1005 3140,1064 3108,1127 2574,1127" fill="#fff" stroke="#3D5FA3" stroke-width="7"/>
<text class="h" x="2702" y="1056" style="font-size:40px" textLength="204" lengthAdjust="spacingAndGlyphs">IFYWGHM</text>
<text class="m" x="2628" y="1106">r</text><text class="si" x="2644" y="1116">i</text>
<text class="u" x="2670" y="1106">=</text>
<text class="u" x="2700" y="1106" style="font-size:50px" textLength="140" lengthAdjust="spacingAndGlyphs">YGHM</text>
<text class="si" x="2840" y="1076">(p,q,r)</text><text class="si" x="2842" y="1116">w</text>
<text class="u" x="2912" y="1112" style="font-size:56px">(</text>
<text class="m" x="2930" y="1106">r</text><text class="si" x="2946" y="1116">i</text><text class="s" x="2954" y="1116">1</text><text class="u" x="2966" y="1108">,</text>
<text class="m" x="2978" y="1106">r</text><text class="si" x="2994" y="1116">i</text><text class="s" x="3002" y="1116">2</text><text class="u" x="3014" y="1108">,</text>
<text class="m" x="3026" y="1106">r</text><text class="si" x="3042" y="1116">i</text><text class="s" x="3050" y="1116">3</text>
<text class="u" x="3066" y="1112" style="font-size:56px">)</text>

<!-- combined -->
<rect x="2535" y="1184" width="602" height="132" rx="22" fill="none" stroke="#222" stroke-width="6" stroke-dasharray="6 4"/>
<text class="h" x="2614" y="1232" style="font-size:36px" textLength="419" lengthAdjust="spacingAndGlyphs">Combined criteria values</text>
<text class="u" x="2708" y="1284" style="font-size:48px">(</text>
<text class="m" x="2726" y="1276">r</text><text class="s" x="2742" y="1286">1</text><text class="u" x="2756" y="1278">,</text>
<text class="m" x="2768" y="1276">r</text><text class="s" x="2784" y="1286">2</text><text class="u" x="2798" y="1278">,</text>
<text class="u" x="2812" y="1272">⋯</text><text class="u" x="2852" y="1278">,</text>
<text class="m" x="2866" y="1276">r</text><text class="si" x="2882" y="1286">m</text>
<text class="u" x="2902" y="1284" style="font-size:48px">)</text>

<!-- ranking -->
<rect x="2535" y="1374" width="602" height="97" rx="22" fill="none" stroke="#222" stroke-width="6" stroke-dasharray="6 4"/>
<text class="h" x="2614" y="1437" style="font-size:36px" textLength="368" lengthAdjust="spacingAndGlyphs">Ranking of alternatives</text>
</svg>
</body></html>
